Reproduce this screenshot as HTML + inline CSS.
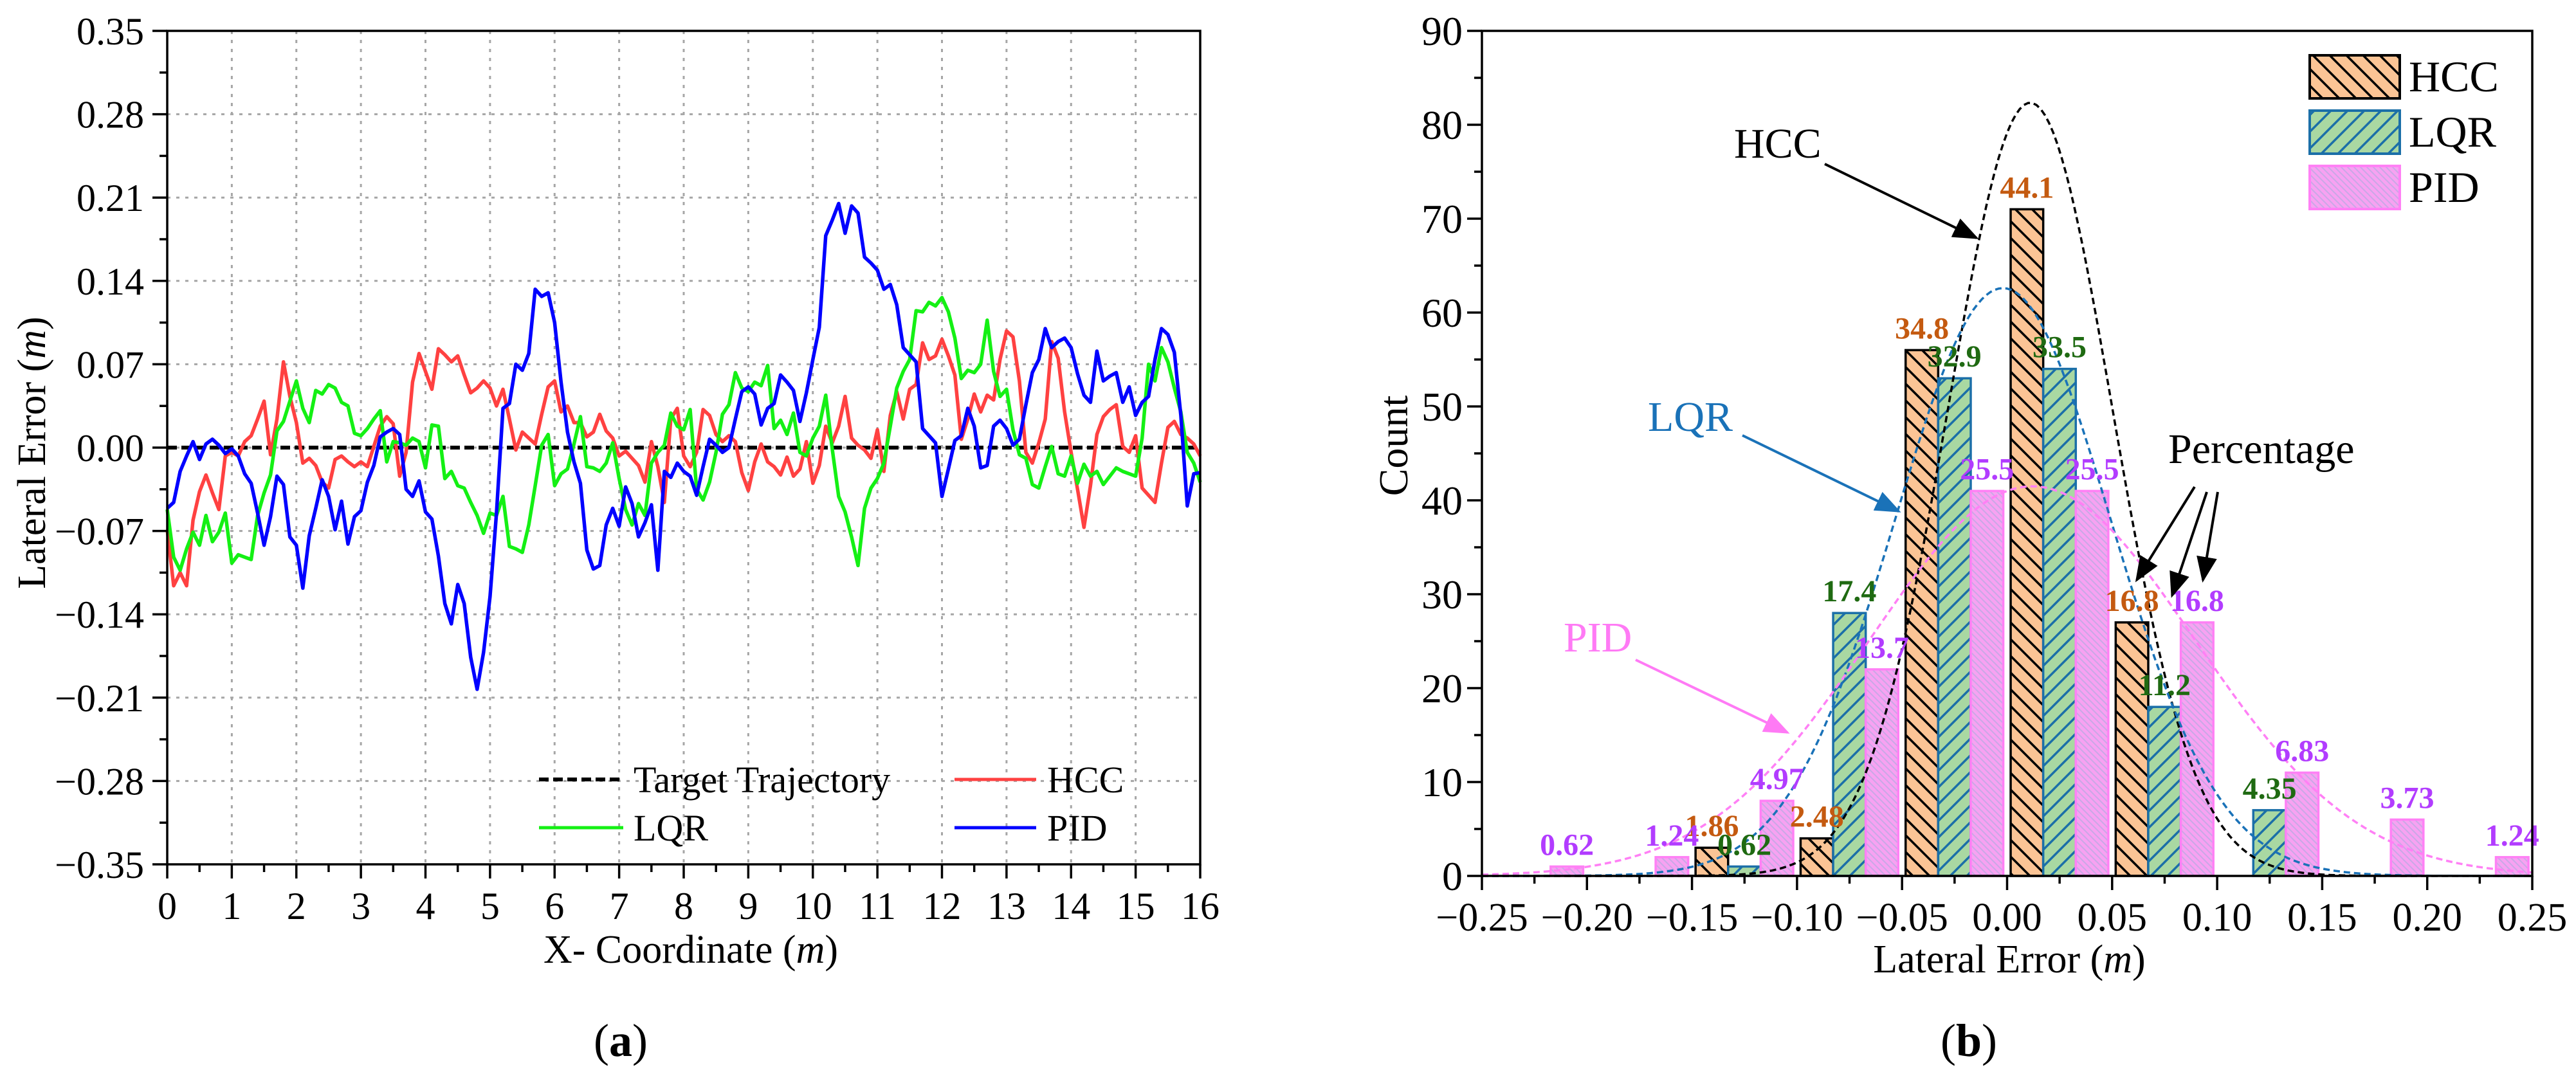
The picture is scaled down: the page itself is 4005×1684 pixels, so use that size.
<!DOCTYPE html>
<html><head><meta charset="utf-8"><style>html,body{margin:0;padding:0;background:#fff}svg{display:block}svg text,svg tspan{font-family:"Liberation Serif","Times New Roman",serif}</style></head>
<body>
<svg id="fig" width="4005" height="1684" viewBox="0 0 4005 1684" xmlns="http://www.w3.org/2000/svg" font-family="Liberation Serif, serif">
<defs>
<pattern id="hHCC" patternUnits="userSpaceOnUse" width="26" height="26"><rect width="26" height="26" fill="#fbc495"/><path d="M-6,-6 L32,32 M-6,20 L6,32 M20,-6 L32,6" stroke="#000" stroke-width="3.5"/></pattern>
<pattern id="hLQR" patternUnits="userSpaceOnUse" width="26" height="26"><rect width="26" height="26" fill="#a9d8a2"/><path d="M-6,32 L32,-6 M-6,6 L6,-6 M20,32 L32,20" stroke="#1b6fa8" stroke-width="3.5"/></pattern>
<pattern id="hPID" patternUnits="userSpaceOnUse" width="10" height="10"><rect width="10" height="10" fill="#f7a2f2"/><path d="M-3,-3 L13,13 M-3,7 L3,13 M7,-3 L13,3" stroke="#c9a8e6" stroke-width="2"/></pattern>
<marker id="arK" markerWidth="10" markerHeight="8" refX="9" refY="4" orient="auto" markerUnits="strokeWidth"><path d="M0,0 L10,4 L0,8 Z" fill="#000"/></marker>
<marker id="arB" markerWidth="10" markerHeight="8" refX="9" refY="4" orient="auto" markerUnits="strokeWidth"><path d="M0,0 L10,4 L0,8 Z" fill="#1a72b8"/></marker>
<marker id="arP" markerWidth="10" markerHeight="8" refX="9" refY="4" orient="auto" markerUnits="strokeWidth"><path d="M0,0 L10,4 L0,8 Z" fill="#ff7af5"/></marker>
</defs>
<g id="left"></g>
<g id="right"></g>
</svg>
<script>
// ---------- Left chart data ----------
const hccY1=[-0.069,-0.116,-0.105,-0.116,-0.061,-0.037,-0.023,-0.038,-0.052,-0.007,-0.004,-0.007,0.005,0.010,0.024,0.039,-0.006,0.024,0.072,0.043,0.021,-0.013,-0.009,-0.015,-0.029,-0.034,-0.010,-0.007,-0.012,-0.016,-0.012,-0.016,0.001,0.018,0.026,0.020,-0.024,-0.004,0.055,0.079,0.064,0.049,0.083,0.078,0.072,0.077,0.061,0.046,0.050,0.056,0.050,0.035,0.049,0.024,-0.002,0.013,0.008,0.003,0.028,0.051,0.056,0.030,0.035,0.021,0.021,0.009,0.013,0.028,0.014,0.008,-0.007,-0.003,-0.009,-0.015,-0.029,0.005,-0.016,-0.046,0.024,0.033,-0.007];
const hccY2=[-0.016,-0.004,0.032,0.027,0.011,0.005,0.010,0.005,-0.021,-0.036,-0.012,0.003,-0.012,-0.016,-0.023,-0.008,-0.024,-0.018,0.005,-0.030,-0.015,0.018,0.004,0.018,0.043,0.008,0.002,-0.002,-0.009,0.015,-0.020,0.027,0.047,0.024,0.049,0.053,0.088,0.074,0.077,0.091,0.077,0.061,0.007,0.024,0.045,0.030,0.044,0.040,0.074,0.098,0.093,0.056,-0.004,-0.013,0.004,0.024,0.089,0.075,0.030,-0.004,-0.035,-0.067,-0.032,0.011,0.026,0.032,0.036,0.001,-0.004,0.010,-0.034,-0.040,-0.046,-0.013,0.017,0.022,0.011,0.008,0.003,-0.007];
const lqrY1=[-0.052,-0.092,-0.103,-0.085,-0.071,-0.082,-0.057,-0.079,-0.071,-0.055,-0.097,-0.090,-0.092,-0.094,-0.057,-0.038,-0.023,0.014,0.022,0.039,0.056,0.033,0.021,0.048,0.045,0.053,0.050,0.038,0.035,0.012,0.010,0.016,0.024,0.031,-0.012,0.005,0.004,0.002,0.008,0.005,-0.017,0.019,0.018,-0.026,-0.020,-0.032,-0.034,-0.046,-0.057,-0.072,-0.055,-0.057,-0.041,-0.083,-0.085,-0.088,-0.065,-0.032,0.002,0.011,-0.032,-0.022,-0.018,0.003,0.026,-0.016,-0.017,-0.020,-0.013,0.004,-0.026,-0.052,-0.065,-0.047,-0.057,-0.013,-0.004,0.002,0.029,0.018,0.015];
const lqrY2=[0.032,-0.035,-0.044,-0.029,-0.004,0.028,0.036,0.063,0.050,0.047,0.055,0.052,0.069,0.016,0.023,0.011,0.029,-0.004,-0.007,0.008,0.018,0.044,-0.001,-0.041,-0.054,-0.075,-0.099,-0.051,-0.034,-0.026,-0.013,0.018,0.050,0.064,0.074,0.115,0.114,0.122,0.119,0.126,0.114,0.092,0.058,0.065,0.063,0.070,0.107,0.064,0.043,0.049,0.015,-0.006,-0.009,-0.031,-0.034,-0.016,0.001,-0.022,-0.024,-0.007,-0.030,-0.014,-0.024,-0.020,-0.031,-0.024,-0.017,-0.020,-0.022,-0.024,0.008,0.070,0.056,0.084,0.072,0.050,0.030,-0.004,-0.013,-0.029];
const pidY1=[-0.051,-0.046,-0.020,-0.007,0.005,-0.010,0.003,0.007,0.002,-0.005,-0.001,-0.007,-0.022,-0.030,-0.055,-0.082,-0.058,-0.024,-0.031,-0.075,-0.082,-0.118,-0.074,-0.051,-0.027,-0.041,-0.069,-0.045,-0.081,-0.058,-0.053,-0.029,-0.015,0.009,0.013,0.016,0.011,-0.035,-0.041,-0.028,-0.054,-0.060,-0.091,-0.131,-0.148,-0.115,-0.131,-0.176,-0.203,-0.172,-0.125,-0.055,0.033,0.037,0.070,0.065,0.079,0.133,0.127,0.130,0.105,0.055,0.013,-0.012,-0.030,-0.086,-0.102,-0.099,-0.065,-0.051,-0.066,-0.033,-0.047,-0.075,-0.063,-0.048,-0.103,-0.020,-0.025,-0.013,-0.020];
const pidY2=[-0.024,-0.040,-0.016,0.007,0.002,-0.004,0.000,0.024,0.047,0.051,0.045,0.019,0.033,0.037,0.061,0.055,0.048,0.022,0.046,0.074,0.101,0.178,0.191,0.205,0.180,0.203,0.197,0.160,0.155,0.149,0.133,0.137,0.120,0.084,0.078,0.072,0.016,0.010,0.004,-0.041,-0.018,0.006,0.010,0.033,0.018,-0.017,-0.015,0.018,0.023,0.016,0.002,0.007,0.036,0.063,0.074,0.100,0.084,0.089,0.092,0.084,0.062,0.044,0.038,0.081,0.056,0.060,0.063,0.038,0.051,0.027,0.038,0.043,0.074,0.100,0.095,0.080,0.027,-0.049,-0.022,-0.021];
const leftXTicks=[0,1,2,3,4,5,6,7,8,9,10,11,12,13,14,15,16];
const leftYTicks=[0.35,0.28,0.21,0.14,0.07,0.00,-0.07,-0.14,-0.21,-0.28,-0.35];
const leftYLabels=["0.35","0.28","0.21","0.14","0.07","0.00","\u22120.07","\u22120.14","\u22120.21","\u22120.28","\u22120.35"];
// ---------- Right chart data ----------
const binStarts=[-0.25,-0.20,-0.15,-0.10,-0.05,0.00,0.05,0.10,0.15,0.20];
const hccCounts=[0,0,3,4,56,71,27,0,0,0];
const lqrCounts=[0,0,1,28,53,54,18,7,0,0];
const pidCounts=[1,2,8,22,41,41,27,11,6,2];
const hccPct=["","","1.86","2.48","34.8","44.1","16.8","","",""];
const lqrPct=["","","0.62","17.4","32.9","33.5","11.2","4.35","",""];
const pidPct=["0.62","1.24","4.97","13.7","25.5","25.5","16.8","6.83","3.73","1.24"];
const fitMeans=[0.011,-0.002,0.012];
const fitSigmas=[0.039,0.0513,0.0774];
const fitTotals=[161,161,161];
const rightXTicks=[-0.25,-0.20,-0.15,-0.10,-0.05,0.00,0.05,0.10,0.15,0.20,0.25];
const rightXLabels=["\u22120.25","\u22120.20","\u22120.15","\u22120.10","\u22120.05","0.00","0.05","0.10","0.15","0.20","0.25"];
const rightYTicks=[0,10,20,30,40,50,60,70,80,90];

const NS="http://www.w3.org/2000/svg";
function mk(parent,tag,attrs,txt){const e=document.createElementNS(NS,tag);for(const k in attrs)e.setAttribute(k,attrs[k]);if(tag==='text')e.setAttribute('font-family','Liberation Serif, serif');if(txt!==undefined)e.textContent=txt;parent.appendChild(e);return e;}

// ===== LEFT =====
const L=document.getElementById('left');
const lx0=260,lx1=1866,ly0=48,ly1=1344;
const lxs=v=>lx0+(v-0)/16*(lx1-lx0);
const lys=v=>ly0+(0.35-v)/0.70*(ly1-ly0);
leftXTicks.forEach(t=>{if(t>0&&t<16){const g=mk(L,'line',{x1:lxs(t),x2:lxs(t),y1:ly0,y2:ly1,stroke:'#a6a6a6','stroke-width':3,'stroke-dasharray':'5 9'});

}});
leftYTicks.forEach(t=>{if(t<0.34&&t>-0.34){const g=mk(L,'line',{x1:lx0,x2:lx1,y1:lys(t),y2:lys(t),stroke:'#a6a6a6','stroke-width':3,'stroke-dasharray':'5 9'});

}});
function series(p1,p2){return p1.concat(p2);}
const seriesList=[[series(hccY1,hccY2),'#ff4141','hcc-line'],[series(lqrY1,lqrY2),'#14f014','lqr-line'],[series(pidY1,pidY2),'#0000ff','pid-line']];
const tl=mk(L,'line',{x1:lxs(0),x2:lxs(16),y1:lys(0),y2:lys(0),stroke:'#000','stroke-width':6,'stroke-dasharray':'15 7'});


seriesList.forEach(s=>{const ys=s[0];const n=ys.length;let d='';ys.forEach((v,i)=>{d+=(i?'L':'M')+lxs(16*i/(n-1)).toFixed(1)+','+lys(v).toFixed(1);});
const p=mk(L,'path',{d:d,fill:'none',stroke:s[1],'stroke-width':5.5,'stroke-linejoin':'round'});

});
const lb=mk(L,'rect',{x:lx0,y:ly0,width:lx1-lx0,height:ly1-ly0,fill:'none',stroke:'#000','stroke-width':3.5});


leftYTicks.forEach((t,i)=>{mk(L,'line',{x1:lx0-23,x2:lx0,y1:lys(t),y2:lys(t),stroke:'#000','stroke-width':3.5});
if(i<leftYTicks.length-1)mk(L,'line',{x1:lx0-12,x2:lx0,y1:lys(t-0.035),y2:lys(t-0.035),stroke:'#000','stroke-width':3.5});
const tx=mk(L,'text',{x:lx0-36,y:lys(t)+21,'font-size':60,'text-anchor':'end'},leftYLabels[i]);

});
leftXTicks.forEach((t,i)=>{mk(L,'line',{x1:lxs(t),x2:lxs(t),y1:ly1,y2:ly1+22,stroke:'#000','stroke-width':3.5});
if(t<16)mk(L,'line',{x1:lxs(t+0.5),x2:lxs(t+0.5),y1:ly1,y2:ly1+12,stroke:'#000','stroke-width':3.5});
const tx=mk(L,'text',{x:lxs(t),y:1429,'font-size':60,'text-anchor':'middle'},String(t));

});
</script>
<script>
(function(){
const L=document.getElementById('left');
const xt=mk(L,'text',{x:1074,y:1497,'font-size':62,'text-anchor':'middle'});
xt.innerHTML='X- Coordinate (<tspan font-style="italic">m</tspan>)';


const yt=mk(L,'text',{x:0,y:0,'font-size':62,'text-anchor':'middle',transform:'translate(70,704) rotate(-90)'});
yt.innerHTML='Lateral Error (<tspan font-style="italic">m</tspan>)';


const pa=mk(L,'text',{x:965,y:1642,'font-size':72,'text-anchor':'middle'});
pa.innerHTML='(<tspan font-weight="bold">a</tspan>)';


const leg=[[838,969,1212,985,'Target Trajectory','#000','15 7',6],[1484,1611,1212,1628,'HCC','#ff4141','',5],[838,969,1287,985,'LQR','#14f014','',5],[1484,1611,1287,1628,'PID','#0000ff','',5]];
leg.forEach(e=>{const g=mk(L,'g',{});


mk(g,'line',{x1:e[0],x2:e[1],y1:e[2],y2:e[2],stroke:e[5],'stroke-width':e[7],'stroke-dasharray':e[6]||'none'});
mk(g,'text',{x:e[3],y:e[2]+20,'font-size':58},e[4]);});

// ===== RIGHT =====
const R=document.getElementById('right');
const rx0=2304,rx1=3937,ry0=48,ry1=1362;
const rxs=v=>rx0+(v+0.25)/0.5*(rx1-rx0);
const rys=v=>ry1-v/90*(ry1-ry0);
const bw=0.0155,off=0.0017;
const groups=[[hccCounts,hccPct,'url(#hHCC)','#000','#c45a10','hcc'],[lqrCounts,lqrPct,'url(#hLQR)','#1b6fa8','#1f6a12','lqr'],[pidCounts,pidPct,'url(#hPID)','#ff80f5','#b23cff','pid']];
groups.forEach((g,gi)=>{binStarts.forEach((b,i)=>{const c=g[0][i];if(c<=0)return;const x=rxs(b+off+gi*bw),w=rxs(b+off+(gi+1)*bw)-x;
const r=mk(R,'rect',{x:x,y:rys(c),width:w,height:rys(0)-rys(c),fill:g[2],stroke:g[3],'stroke-width':3.5});

});});
const fitColors=['#000','#1a72b8','#ff80f5'];
const fitNames=['hcc-fit-curve','lqr-fit-curve','pid-fit-curve'];
fitMeans.forEach((m,k)=>{const s=fitSigmas[k],A=fitTotals[k]*0.05;let d='';for(let j=0;j<=250;j++){const x=-0.25+j*0.002;const y=A/(s*Math.sqrt(2*Math.PI))*Math.exp(-0.5*((x-m)/s)**2);d+=(j?'L':'M')+rxs(x).toFixed(1)+','+rys(y).toFixed(1);}
const p=mk(R,'path',{d:d,fill:'none',stroke:fitColors[k],'stroke-width':3.5,'stroke-dasharray':'10 6'});

});
groups.forEach((g,gi)=>{binStarts.forEach((b,i)=>{const t=g[1][i];if(!t)return;const cx=rxs(b+off+(gi+0.5)*bw);
const tx=mk(R,'text',{x:cx,y:rys(g[0][i])-18,'font-size':48,'font-weight':'bold','text-anchor':'middle',fill:g[4]},t);

});});
const rb=mk(R,'rect',{x:rx0,y:ry0,width:rx1-rx0,height:ry1-ry0,fill:'none',stroke:'#000','stroke-width':3.5});


rightYTicks.forEach(t=>{mk(R,'line',{x1:rx0-23,x2:rx0,y1:rys(t),y2:rys(t),stroke:'#000','stroke-width':3.5});
if(t<90)mk(R,'line',{x1:rx0-12,x2:rx0,y1:rys(t+5),y2:rys(t+5),stroke:'#000','stroke-width':3.5});
const tx=mk(R,'text',{x:rx0-30,y:rys(t)+22,'font-size':64,'text-anchor':'end'},String(t));

});
rightXTicks.forEach((t,i)=>{mk(R,'line',{x1:rxs(t),x2:rxs(t),y1:ry1,y2:ry1+22,stroke:'#000','stroke-width':3.5});
if(i<rightXTicks.length-1)mk(R,'line',{x1:rxs(t+0.025),x2:rxs(t+0.025),y1:ry1,y2:ry1+12,stroke:'#000','stroke-width':3.5});
const tx=mk(R,'text',{x:rxs(t),y:1447,'font-size':62,'text-anchor':'middle'},rightXLabels[i]);

});
const rxt=mk(R,'text',{x:3124,y:1512,'font-size':62,'text-anchor':'middle'});
rxt.innerHTML='Lateral Error (<tspan font-style="italic">m</tspan>)';


const ryt=mk(R,'text',{x:0,y:0,'font-size':64,'text-anchor':'middle',transform:'translate(2188,693) rotate(-90)'},'Count');


const pb=mk(R,'text',{x:3061,y:1642,'font-size':72,'text-anchor':'middle'});
pb.innerHTML='(<tspan font-weight="bold">b</tspan>)';


const rl=[[86,'url(#hHCC)','#000','HCC'],[172,'url(#hLQR)','#1b6fa8','LQR'],[258,'url(#hPID)','#ff80f5','PID']];
rl.forEach(e=>{const g=mk(R,'g',{});


mk(g,'rect',{x:3591,y:e[0],width:140,height:67,fill:e[1],stroke:e[2],'stroke-width':4});
mk(g,'text',{x:3745,y:e[0]+56,'font-size':68},e[3]);});
function ann(tx,ty,txt,col,x1,y1,x2,y2,mark,name){const g=mk(R,'g',{});


if(txt)mk(g,'text',{x:tx,y:ty,'font-size':66,fill:col},txt);
if(x1!==null)mk(g,'line',{x1:x1,y1:y1,x2:x2,y2:y2,stroke:col,'stroke-width':4,'marker-end':'url(#'+mark+')'});}
ann(2696,245,'HCC','#000',2837,255,3073,370,'arK','hcc-annotation');
ann(2562,670,'LQR','#1a72b8',2709,677,2952,795,'arB','lqr-annotation');
ann(2431,1013,'PID','#ff7af5',2543,1026,2779,1139,'arP','pid-annotation');
ann(3371,720,'Percentage','#000',3412,757,3322,902,'arK','percentage-annotation');
ann(0,0,'','#000',3431,765,3377,926,'arK','percentage-arrow');
ann(0,0,'','#000',3448,765,3425,902,'arK','percentage-arrow');
})();
</script>
</body></html>
